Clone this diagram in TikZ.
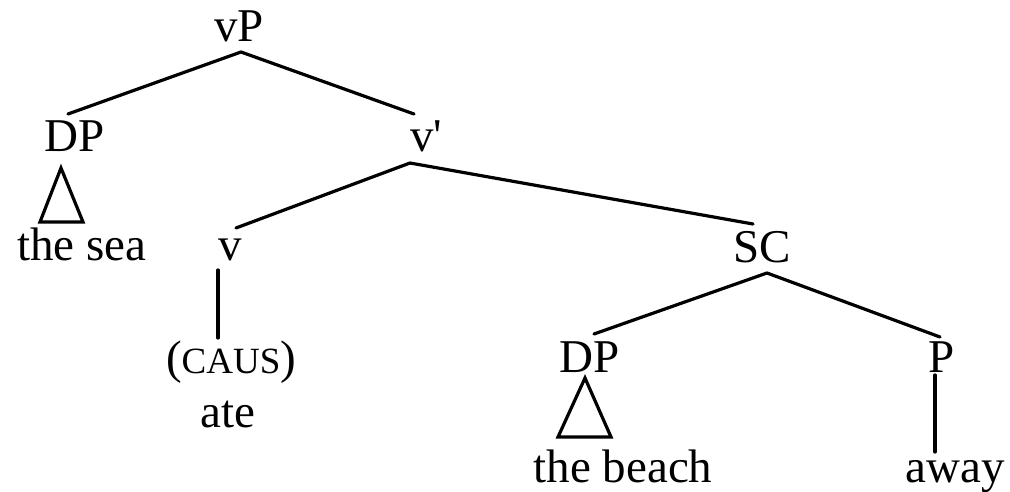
\documentclass[tikz,border=0pt]{standalone}
\usepackage{fontspec}
\setmainfont{Liberation Serif}
\newfontfamily\nolig{Liberation Serif}[Ligatures=TeXOff]
\begin{document}
\begin{tikzpicture}[x=1pt,y=-1pt,
  lab/.style={anchor=base,inner sep=0pt,font=\fontsize{47}{56}\selectfont},
  edge/.style={line width=3.2pt,line cap=round,line join=miter}]
\useasboundingbox (0,0) rectangle (1010,492);
% nodes
\node[lab] (vP) at (239,42) {vP};
\node[lab] (DPa) at (75,152) {DP};
\node[lab] (sea) at (82,260) {the sea};
\node[lab,font=\fontsize{47}{56}\nolig] (vbar) at (426,152) {v'};
\node[lab] (v) at (230,260) {v};
\node[lab] (caus) at (231,373) {({\fontsize{37}{44}\selectfont CAUS})};
\node[lab] (ate) at (228,427) {ate};
\node[lab] (SC) at (762,262) {SC};
\node[lab] (DPb) at (590,372) {DP};
\node[lab] (P) at (942,372) {P};
\node[lab] (beach) at (623,482) {the beach};
\node[lab] (away) at (955,482) {away};
% branches
\draw[edge] ([shift={(2,10)}]vP.base) -- ([shift={(-7,-38)}]DPa.base);
\draw[edge] ([shift={(2,10)}]vP.base) -- ([shift={(-12,-38)}]vbar.base);
\draw[edge] ([shift={(-16,11)}]vbar.base) -- ([shift={(6,-32)}]v.base);
\draw[edge] ([shift={(-16,11)}]vbar.base) -- ([shift={(-9,-38)}]SC.base);
\draw[edge] ([shift={(-12,10)}]v.base) -- ([shift={(-13,-35)}]caus.base);
\draw[edge] ([shift={(5,11)}]SC.base) -- ([shift={(4,-38)}]DPb.base);
\draw[edge] ([shift={(5,11)}]SC.base) -- ([shift={(-2,-35)}]P.base);
\draw[edge] ([shift={(-7,3)}]P.base) -- ([shift={(-20,-30)}]away.base);
% triangles
\draw[edge] ([shift={(-14,16)}]DPa.base) -- ([shift={(-35,70)}]DPa.base) -- ([shift={(8,70)}]DPa.base) -- cycle;
\draw[edge] ([shift={(-5,6)}]DPb.base) -- ([shift={(-32,65)}]DPb.base) -- ([shift={(21,65)}]DPb.base) -- cycle;
\end{tikzpicture}
\end{document}
